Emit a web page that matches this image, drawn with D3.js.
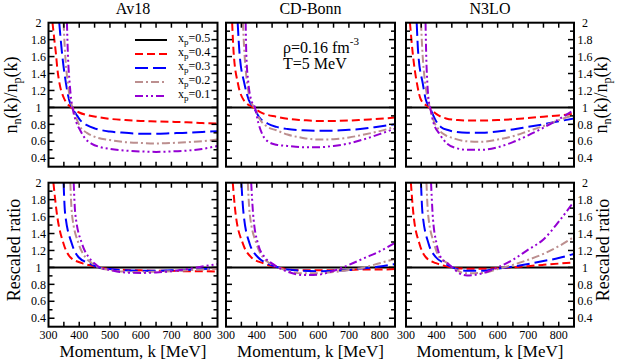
<!DOCTYPE html>
<html><head><meta charset="utf-8">
<script src="https://cdn.jsdelivr.net/npm/d3@7"></script>
<style>
body{margin:0;background:#fff}
text{font-family:"Liberation Serif","Times New Roman",serif;fill:#000}
</style>
</head><body>
<svg id="c" width="623" height="362"></svg>
<script>
// ---------------- DATA ----------------
const models = ["Av18", "CD-Bonn", "N3LO"];
const xpLabels = ["0.5", "0.4", "0.3", "0.2", "0.1"];
const xTickLabels = [300, 400, 500, 600, 700, 800];
const yTickLabels = [0.4, 0.6, 0.8, 1, 1.2, 1.4, 1.6, 1.8, 2];
const kDomain = [300, 850];
const ratioDomain = [0.3, 2];

const blackLine = [[300, 1], [850, 1]]; // x_p = 0.5

// Top row: n_n(k)/n_p(k)
const av18Top04 = [[313,2.0],[319,1.8],[324,1.64],[329,1.45],[336,1.28],[349,1.12],[362,1.04],[374,1.0],[400,0.94],[430,0.905],[463,0.885],[500,0.865],[550,0.85],[600,0.84],[650,0.835],[700,0.83],[750,0.825],[800,0.815],[850,0.81]];
const av18Top03 = [[335,2.0],[344,1.64],[357,1.28],[367,1.09],[376,1.0],[390,0.92],[403,0.85],[425,0.79],[452,0.75],[500,0.715],[550,0.70],[600,0.69],[650,0.69],[700,0.695],[750,0.70],[800,0.71],[850,0.72]];
const av18Top02 = [[349,2.0],[354,1.64],[363,1.28],[371,1.09],[378,1.0],[390,0.88],[403,0.77],[425,0.70],[452,0.65],[500,0.615],[550,0.59],[600,0.58],[650,0.575],[700,0.58],[750,0.59],[800,0.60],[850,0.62]];
const av18Top01 = [[360,2.0],[363,1.64],[369,1.28],[374,1.09],[378,1.0],[390,0.83],[403,0.73],[420,0.63],[441,0.57],[470,0.53],[500,0.51],[550,0.49],[600,0.48],[650,0.475],[700,0.48],[750,0.49],[800,0.51],[850,0.545]];

const cdbTop04 = [[320,2.0],[325,1.64],[339,1.28],[357,1.09],[388,1.0],[420,0.93],[464,0.89],[500,0.865],[550,0.85],[600,0.84],[650,0.84],[700,0.845],[750,0.855],[800,0.865],[850,0.88]];
const cdbTop03 = [[338,2.0],[344,1.64],[360,1.28],[374,1.09],[390,1.0],[409,0.88],[435,0.81],[464,0.77],[500,0.745],[550,0.73],[600,0.725],[650,0.725],[700,0.735],[750,0.75],[800,0.775],[850,0.80]];
const cdbTop02 = [[355,2.0],[360,1.64],[369,1.28],[379,1.09],[392,1.0],[410,0.86],[435,0.77],[464,0.73],[500,0.68],[550,0.64],[600,0.62],[650,0.625],[700,0.645],[750,0.68],[800,0.72],[850,0.77]];
const cdbTop01 = [[364,2.0],[366,1.64],[373,1.28],[382,1.09],[394,1.0],[405,0.82],[420,0.67],[440,0.59],[464,0.56],[500,0.545],[550,0.53],[600,0.53],[650,0.545],[700,0.575],[750,0.625],[800,0.685],[850,0.75]];

const n3loTop04 = [[313,2.0],[322,1.64],[336,1.28],[349,1.09],[376,1.0],[400,0.92],[431,0.87],[470,0.85],[500,0.845],[550,0.845],[600,0.85],[650,0.86],[700,0.875],[750,0.89],[800,0.905],[850,0.925]];
const n3loTop03 = [[335,2.0],[340,1.64],[355,1.28],[365,1.09],[378,1.0],[395,0.86],[414,0.77],[440,0.73],[464,0.71],[500,0.70],[550,0.70],[600,0.715],[650,0.74],[700,0.77],[750,0.80],[800,0.835],[850,0.87]];
const n3loTop02 = [[349,2.0],[354,1.64],[363,1.28],[372,1.09],[378,1.0],[390,0.85],[409,0.73],[430,0.67],[452,0.64],[500,0.60],[550,0.595],[600,0.62],[650,0.66],[700,0.72],[750,0.78],[800,0.85],[850,0.91]];
const n3loTop01 = [[364,2.0],[366,1.64],[370,1.28],[374,1.09],[379,1.0],[390,0.82],[409,0.69],[435,0.57],[464,0.52],[500,0.50],[550,0.50],[600,0.53],[650,0.59],[700,0.67],[750,0.76],[800,0.86],[850,0.97]];

// Bottom row: rescaled ratio
const av18Bot04 = [[316,2.0],[327,1.64],[349,1.28],[371,1.12],[409,1.05],[440,1.02],[463,1.0],[500,0.98],[550,0.97],[600,0.965],[650,0.96],[700,0.96],[750,0.955],[800,0.955],[850,0.95]];
const av18Bot03 = [[349,2.0],[354,1.64],[376,1.28],[398,1.12],[431,1.05],[463,1.0],[500,0.98],[550,0.965],[600,0.96],[650,0.96],[700,0.965],[750,0.97],[800,0.98],[850,0.99]];
const av18Bot02 = [[371,2.0],[376,1.64],[398,1.28],[420,1.12],[441,1.05],[463,1.0],[500,0.97],[550,0.95],[600,0.945],[650,0.95],[700,0.955],[750,0.965],[800,0.975],[850,0.985]];
const av18Bot01 = [[382,2.0],[387,1.64],[409,1.28],[431,1.12],[452,1.04],[470,0.995],[500,0.97],[550,0.94],[600,0.935],[650,0.94],[700,0.955],[750,0.98],[800,1.01],[850,1.04]];

const cdbBot04 = [[322,2.0],[331,1.64],[355,1.28],[382,1.12],[420,1.05],[445,1.02],[468,1.0],[500,0.975],[550,0.965],[600,0.965],[650,0.965],[700,0.97],[750,0.975],[800,0.975],[850,0.98]];
const cdbBot03 = [[350,2.0],[357,1.64],[377,1.28],[404,1.12],[432,1.05],[470,1.0],[500,0.975],[550,0.96],[600,0.955],[650,0.96],[700,0.97],[750,0.99],[800,1.01],[850,1.04]];
const cdbBot02 = [[371,2.0],[377,1.64],[399,1.28],[420,1.12],[442,1.05],[470,1.0],[500,0.96],[550,0.93],[600,0.93],[650,0.945],[700,0.97],[750,1.0],[800,1.05],[850,1.10]];
const cdbBot01 = [[382,2.0],[388,1.64],[404,1.28],[426,1.12],[448,1.05],[470,1.0],[500,0.95],[550,0.91],[600,0.915],[650,0.96],[700,1.03],[750,1.11],[800,1.19],[850,1.29]];

const n3loBot04 = [[316,2.0],[324,1.64],[344,1.28],[365,1.12],[398,1.05],[425,1.02],[447,1.0],[500,0.985],[550,0.985],[600,0.99],[650,1.0],[700,1.015],[750,1.03],[800,1.045],[850,1.06]];
const n3loBot03 = [[349,2.0],[354,1.64],[374,1.28],[398,1.12],[425,1.05],[452,1.0],[500,0.96],[550,0.96],[600,0.985],[650,1.01],[700,1.04],[750,1.075],[800,1.11],[850,1.16]];
const n3loBot02 = [[367,2.0],[372,1.64],[392,1.28],[409,1.12],[436,1.05],[452,1.0],[500,0.93],[550,0.935],[600,0.98],[650,1.03],[700,1.09],[750,1.16],[800,1.25],[850,1.36]];
const n3loBot01 = [[382,2.0],[387,1.64],[400,1.28],[414,1.12],[436,1.05],[452,1.0],[475,0.93],[500,0.905],[550,0.93],[600,1.0],[650,1.09],[700,1.21],[750,1.33],[800,1.54],[850,1.78]];

// ---------------- STYLE ----------------
const seriesColors = ["#000000", "#ff0000", "#0000ff", "#bc8f8f", "#9400d3"];
const seriesDash = ["none", "8,4", "13,5", "8,3,2,3", "8,3,2,3,2,3"];

const panelData = [
  [[blackLine, av18Top04, av18Top03, av18Top02, av18Top01], [blackLine, av18Bot04, av18Bot03, av18Bot02, av18Bot01]],
  [[blackLine, cdbTop04, cdbTop03, cdbTop02, cdbTop01], [blackLine, cdbBot04, cdbBot03, cdbBot02, cdbBot01]],
  [[blackLine, n3loTop04, n3loTop03, n3loTop02, n3loTop01], [blackLine, n3loBot04, n3loBot03, n3loBot02, n3loBot01]]
];

const panelX = [[48.5, 217.5], [226, 395], [406, 574]];
const panelY = [[22.7, 166.7], [182.7, 326.7]];

const svg = d3.select("#c");

const xMinor = d3.range(350, 850, 50);
const yMinor = d3.range(4, 20).map(d => d / 10);

models.forEach((m, mi) => {
  const [x0, x1] = panelX[mi];
  svg.append("text").attr("x", (x0 + x1) / 2).attr("y", 14)
    .attr("text-anchor", "middle").attr("font-size", 16).text(m);

  [0, 1].forEach(row => {
    const [y0, y1] = panelY[row];
    const x = d3.scaleLinear().domain(kDomain).range([x0, x1]);
    const y = d3.scaleLinear().domain(ratioDomain).range([y1, y0]);
    const g = svg.append("g");
    const cid = `clip${mi}${row}`;
    g.append("clipPath").attr("id", cid).append("rect")
      .attr("x", x0).attr("y", y0).attr("width", x1 - x0).attr("height", y1 - y0);

    const line = d3.line().x(d => x(d[0])).y(d => y(d[1])).curve(d3.curveMonotoneX);
    const cg = g.append("g").attr("clip-path", `url(#${cid})`);
    panelData[mi][row].forEach((s, si) => {
      cg.append("path").datum(s).attr("d", line)
        .attr("fill", "none").attr("stroke", seriesColors[si])
        .attr("stroke-width", 2)
        .attr("stroke-dasharray", seriesDash[si]);
    });

    const tg = g.append("g").attr("stroke", "#000").attr("stroke-width", 1.5);
    xMinor.forEach(k => {
      const len = 5;
      tg.append("line").attr("x1", x(k)).attr("x2", x(k)).attr("y1", y1).attr("y2", y1 - len);
      tg.append("line").attr("x1", x(k)).attr("x2", x(k)).attr("y1", y0).attr("y2", y0 + len);
    });
    yMinor.forEach(v => {
      const major = Math.round(v * 10) % 2 === 0;
      const len = major ? 6 : 4;
      tg.append("line").attr("x1", x0).attr("x2", x0 + len).attr("y1", y(v)).attr("y2", y(v));
      tg.append("line").attr("x1", x1).attr("x2", x1 - len).attr("y1", y(v)).attr("y2", y(v));
    });

    g.append("rect").attr("x", x0).attr("y", y0).attr("width", x1 - x0).attr("height", y1 - y0)
      .attr("fill", "none").attr("stroke", "#000").attr("stroke-width", 2);

    if (mi === 0 || mi === 2) {
      const lx = mi === 0 ? x0 - 10 : x1 + 11;
      yTickLabels.forEach(v => {
        svg.append("text").attr("x", lx).attr("y", y(v) + 4.2)
          .attr("text-anchor", "middle").attr("font-size", 12).text(d3.format("")(v));
      });
    }
    if (row === 1) {
      xTickLabels.forEach(k => {
        svg.append("text").attr("x", x(k)).attr("y", y1 + 12.5)
          .attr("text-anchor", "middle").attr("font-size", 12).text(k);
      });
      svg.append("text").attr("x", (x0 + x1) / 2).attr("y", 357)
        .attr("text-anchor", "middle").attr("font-size", 17).text("Momentum, k [MeV]");
    }
  });
});

function ratioTitle(xc, yc) {
  const t = svg.append("text").attr("transform", `translate(${xc},${yc}) rotate(-90)`)
    .attr("text-anchor", "middle").attr("font-size", 18);
  t.append("tspan").text("n");
  t.append("tspan").attr("font-size", 12).attr("dy", 4).text("n");
  t.append("tspan").attr("dy", -4).text("(k)/n");
  t.append("tspan").attr("font-size", 12).attr("dy", 4).text("p");
  t.append("tspan").attr("dy", -4).text("(k)");
}
ratioTitle(16.5, 95);
ratioTitle(607, 95);
svg.append("text").attr("transform", `translate(20,250) rotate(-90)`)
  .attr("text-anchor", "middle").attr("font-size", 18).text("Rescaled ratio");
svg.append("text").attr("transform", `translate(609,250) rotate(-90)`)
  .attr("text-anchor", "middle").attr("font-size", 18).text("Rescaled ratio");

const legY0 = 40, legDy = 14;
xpLabels.forEach((lab, i) => {
  const ly = legY0 + i * legDy;
  svg.append("path").datum([[135, ly], [167, ly]])
    .attr("d", d3.line())
    .attr("fill", "none").attr("stroke", seriesColors[i]).attr("stroke-width", 2)
    .attr("stroke-dasharray", seriesDash[i]);
  const t = svg.append("text").attr("x", 178).attr("y", ly + 2).attr("font-size", 12);
  t.append("tspan").text("x");
  t.append("tspan").attr("font-size", 9).attr("dy", 3).text("p");
  t.append("tspan").attr("dy", -3).text("=" + lab);
});

const ann = svg.append("text").attr("x", 283).attr("y", 53).attr("font-size", 16);
ann.append("tspan").text("ρ=0.16 fm");
ann.append("tspan").attr("font-size", 11).attr("dy", -8).text("-3");
svg.append("text").attr("x", 283).attr("y", 69).attr("font-size", 16).text("T=5 MeV");
</script>
</body></html>
